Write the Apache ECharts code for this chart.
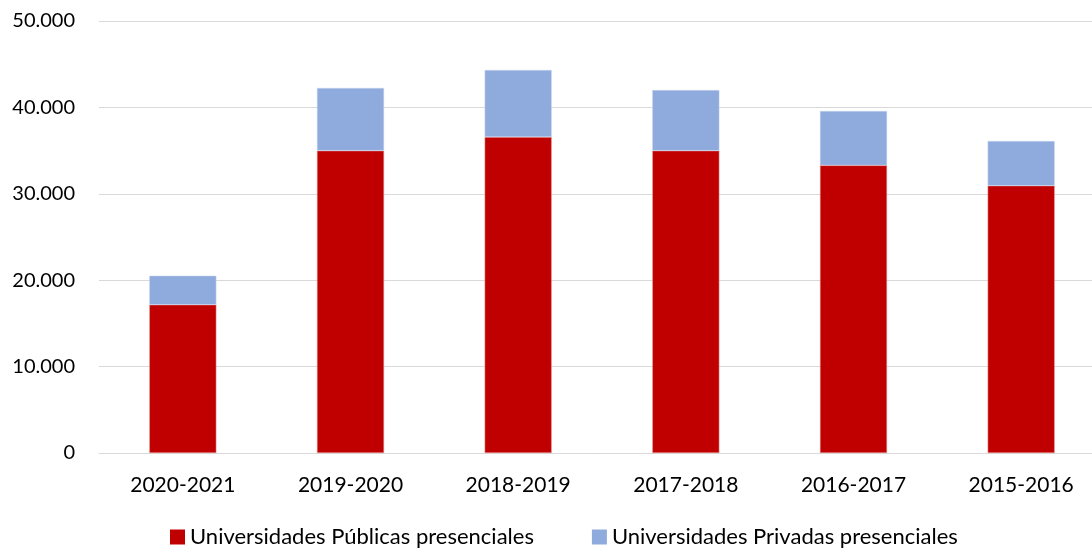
<!DOCTYPE html>
<html>
<head>
<meta charset="utf-8">
<script src="https://cdn.jsdelivr.net/npm/echarts@6/dist/echarts.min.js"></script>
<style>
  html, body { margin: 0; padding: 0; background: #fff; }
  #chart { width: 1092px; height: 548px; }
</style>
</head>
<body>
<div id="chart"></div>
<script>
const categories = ['2020-2021', '2019-2020', '2018-2019', '2017-2018', '2016-2017', '2015-2016']
const publicas = [17160, 34990, 36570, 34990, 33290, 30940]
const privadas = [3360, 7260, 7760, 7010, 6290, 5170]

const fontFamily = 'Lato, "Open Sans", sans-serif'
const chart = echarts.init(document.getElementById('chart'))

const fmt = v => String(v).replace(/\B(?=(\d{3})+(?!\d))/g, '.')

chart.setOption({
  animation: false,
  textStyle: { fontFamily },
  grid: { left: 99, width: 1006, top: 21, bottom: 95, containLabel: false, outerBoundsMode: 'none' },
  legend: {
    bottom: 0,
    left: 170,
    padding: 0,
    itemWidth: 15,
    itemHeight: 15,
    itemGap: 58,
    icon: 'rect',
    itemStyle: { borderWidth: 0 },
    textStyle: { fontSize: 22, color: '#000', fontFamily },
    data: ['Universidades Públicas presenciales', 'Universidades Privadas presenciales']
  },
  xAxis: {
    type: 'category',
    data: categories,
    axisLine: { lineStyle: { color: '#d9d9d9', width: 1 } },
    axisTick: { show: false },
    axisLabel: { fontSize: 21, color: '#000', margin: 22, fontFamily }
  },
  yAxis: {
    type: 'value',
    min: 0,
    max: 50000,
    interval: 10000,
    axisLine: { show: false },
    axisTick: { show: false },
    splitLine: { lineStyle: { color: '#d9d9d9', width: 1 } },
    axisLabel: { fontSize: 20, color: '#000', margin: 24, formatter: fmt, fontFamily }
  },
  series: [
    {
      name: 'Universidades Públicas presenciales',
      type: 'bar',
      stack: 'total',
      barWidth: '40%',
      itemStyle: { color: '#c00000', borderColor: '#e8a0a0', borderWidth: 0.5 },
      data: publicas
    },
    {
      name: 'Universidades Privadas presenciales',
      type: 'bar',
      stack: 'total',
      barWidth: '40%',
      itemStyle: { color: '#8faadc', borderColor: '#c8d6f0', borderWidth: 0.5 },
      data: privadas
    }
  ]
})
</script>
</body>
</html>
